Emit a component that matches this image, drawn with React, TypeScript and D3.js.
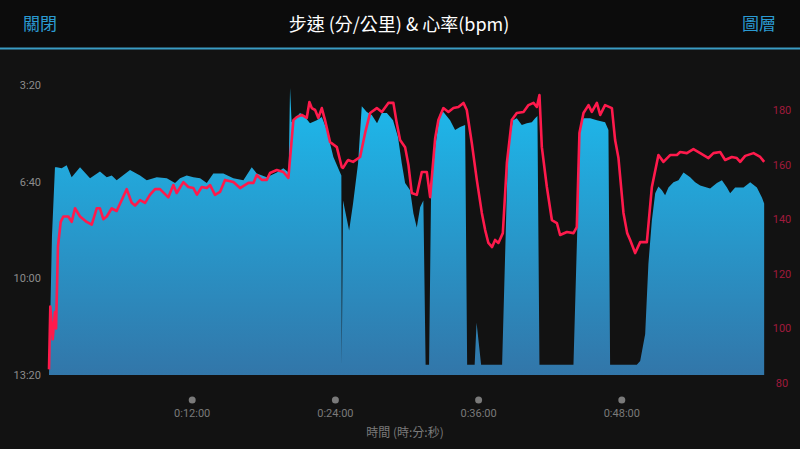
import React from "react";
import * as d3 from "d3";

// time in minutes, pace in seconds per km
const paceTime = [0, 0.25, 0.5, 0.65, 1.06, 1.48, 1.9, 2.6, 3.44, 4.27, 4.84, 5.26, 5.67, 6.79, 7.63, 8.19, 9.03, 9.87, 10.56, 10.98, 11.54, 12.1, 12.66, 13.22, 13.77, 14.61, 15.45, 16.29, 16.99, 17.41, 18.25, 19.09, 19.64, 20.08, 20.2, 20.33, 20.62, 21.04, 21.46, 21.87, 22.44, 22.86, 23.28, 23.83, 24.39, 24.5, 24.53, 24.64, 25.15, 25.48, 25.9, 26.21, 26.63, 27.05, 27.49, 27.89, 28.31, 28.83, 29.25, 29.56, 29.84, 30.26, 30.54, 30.82, 31.1, 31.37, 31.56, 31.85, 32.02, 32.36, 32.77, 33.05, 33.61, 34.03, 34.45, 34.87, 35.04, 35.67, 35.83, 36.21, 37.97, 38.47, 38.89, 39.2, 39.62, 40.04, 40.46, 40.74, 40.93, 41.1, 43.95, 44.51, 44.79, 45.35, 45.91, 46.6, 46.88, 47.02, 49.26, 49.54, 49.96, 50.23, 50.52, 50.8, 51.07, 51.36, 51.63, 51.91, 52.33, 52.75, 53.17, 53.73, 54.15, 54.57, 55.4, 55.97, 56.39, 56.81, 57.08, 57.5, 58.2, 58.76, 59.32, 59.74, 59.93];
const paceSec = [800, 512, 370, 370, 372, 366, 391, 370, 393, 379, 391, 387, 397, 376, 387, 397, 391, 393, 403, 393, 387, 391, 393, 403, 383, 383, 393, 397, 370, 383, 391, 381, 372, 381, 206, 277, 269, 258, 266, 279, 273, 266, 293, 349, 381, 387, 779, 439, 501, 445, 362, 244, 256, 262, 279, 258, 258, 273, 308, 362, 403, 418, 466, 495, 453, 439, 779, 779, 418, 329, 258, 256, 273, 293, 287, 283, 779, 779, 692, 779, 779, 329, 273, 269, 283, 279, 277, 269, 264, 779, 779, 287, 269, 269, 273, 277, 293, 779, 779, 771, 715, 570, 480, 424, 410, 418, 428, 412, 401, 397, 381, 391, 401, 408, 414, 403, 397, 412, 424, 412, 412, 401, 412, 433, 445];

// time in minutes, heart rate in bpm
const hrTime = [0, 0.11, 0.31, 0.5, 0.59, 0.75, 0.98, 1.2, 1.62, 1.9, 2.18, 2.6, 3.16, 3.58, 4.0, 4.27, 4.55, 4.84, 5.26, 5.67, 6.51, 6.93, 7.21, 7.63, 8.05, 8.47, 8.89, 9.3, 10.0, 10.42, 10.7, 11.26, 11.68, 12.1, 12.4, 12.8, 13.22, 13.5, 13.91, 14.33, 14.75, 15.45, 16.01, 16.71, 17.13, 17.41, 17.83, 18.25, 18.52, 19.09, 19.64, 20.06, 20.48, 20.76, 21.18, 21.6, 21.82, 22.02, 22.3, 22.57, 22.86, 23.13, 23.55, 24.12, 24.53, 24.64, 24.95, 25.07, 25.48, 26.07, 26.49, 26.91, 27.47, 27.89, 28.44, 28.86, 29.14, 29.42, 29.84, 30.12, 30.4, 30.82, 31.24, 31.66, 31.94, 32.36, 32.63, 33.05, 33.47, 33.89, 34.31, 34.73, 35.01, 35.43, 35.85, 36.27, 36.55, 36.82, 37.13, 37.38, 37.66, 38.03, 38.37, 38.78, 39.2, 39.76, 40.18, 40.6, 40.88, 41.1, 41.3, 41.72, 42.14, 42.56, 42.83, 43.4, 43.95, 44.23, 44.45, 44.79, 45.21, 45.49, 45.91, 46.19, 46.6, 47.17, 47.44, 47.72, 48.14, 48.45, 48.7, 49.12, 49.54, 50.1, 50.52, 51.07, 51.49, 52.05, 52.62, 52.89, 53.45, 54.0, 54.57, 55.26, 55.68, 56.24, 56.66, 57.22, 57.64, 57.92, 58.34, 59.04, 59.6, 59.93];
const hrBpm = [85, 108, 96, 106, 100, 130, 139, 141, 141, 139, 144, 141, 139, 138, 144, 144, 140, 141, 144, 143, 151, 146, 145, 147, 146, 149, 151, 151, 148, 152.5, 149.6, 153.6, 151.8, 151.4, 149, 151.8, 151.4, 152.5, 148.9, 150, 154.4, 153.6, 151.4, 153.3, 153.3, 156.2, 154.4, 154.4, 156.9, 158, 157.3, 155.1, 176.3, 177.4, 178.2, 177.1, 182.9, 180.7, 180, 177.1, 180.7, 176.3, 168.3, 166.4, 159.1, 158.8, 161, 161.7, 161, 162.8, 171.6, 178.9, 180.7, 179.3, 182.6, 182.6, 175.2, 169, 166.4, 159.9, 149.6, 148.9, 157.3, 157.3, 148.1, 169.7, 176.3, 180.7, 179.3, 180.7, 181.1, 182.6, 180, 167.9, 154.4, 142.3, 136, 131.3, 129.8, 132.4, 131.3, 134.9, 160.6, 176.3, 178.9, 179.3, 181.8, 182.6, 181.1, 185.5, 166.4, 151.8, 139.7, 138.6, 134.2, 135.3, 134.9, 137.1, 171.6, 178.9, 181.8, 179.3, 182.6, 178.2, 181.8, 180.7, 169, 162.4, 142.3, 134.9, 132.4, 127.6, 131.6, 131.6, 151.8, 163.5, 161, 163.5, 163.5, 164.6, 164.2, 165.7, 164.2, 162.4, 164.2, 164.6, 161.7, 162.8, 162.4, 161, 163.2, 164.2, 162.8, 161];

const paceTicks = [200, 400, 600, 800];
const hrTicks = [80, 100, 120, 140, 160, 180];
const timeTicks = [12, 24, 36, 48];

const fmtPace = (s: number) => `${Math.floor(s / 60)}:${String(s % 60).padStart(2, "0")}`;
const fmtTime = (m: number) => `0:${String(m).padStart(2, "0")}:00`;

export default function App() {
  const W = 800, H = 449;
  const x = d3.scaleLinear().domain([0, 60]).range([49, 765]);
  const yP = d3.scaleLinear().domain([200, 800]).range([85, 375]);
  const yH = d3.scaleLinear().domain([80, 180]).range([383, 110]);

  const paceData = paceTime.map((t, i) => ({ t, v: paceSec[i] }));
  const hrData = hrTime.map((t, i) => ({ t, v: hrBpm[i] }));

  const area = d3.area<{ t: number; v: number }>()
    .x(d => x(d.t)).y0(yP(800)).y1(d => yP(d.v));
  const line = d3.line<{ t: number; v: number }>()
    .x(d => x(d.t)).y(d => yH(d.v));

  const sans = "Roboto, 'Noto Sans CJK TC', sans-serif";
  const cjk = "'Noto Sans CJK TC', sans-serif";

  return (
    <svg width={W} height={H} style={{ position: "absolute", left: 0, top: 0 }}>
      <defs>
        <linearGradient id="pg" gradientUnits="userSpaceOnUse" x1={0} y1={85} x2={0} y2={375}>
          <stop offset="0" stopColor="#1cbcef" />
          <stop offset="1" stopColor="#3276a9" />
        </linearGradient>
      </defs>
      <rect x={0} y={0} width={W} height={H} fill="#121212" />
      <rect x={0} y={0} width={W} height={48} fill="#0c0c0c" />
      <line x1={0} x2={W} y1={48.5} y2={48.5} stroke="#3a9cc4" strokeWidth={2} />
      <text x={23} y={30} fill="#2b9bd3" fontSize={17} fontFamily={cjk}>關閉</text>
      <text x={399} y={31} fill="#ffffff" fontSize={18} fontFamily={cjk} textAnchor="middle">步速 (分/公里) &amp; 心率(bpm)</text>
      <text x={776} y={30} fill="#2b9bd3" fontSize={17} fontFamily={cjk} textAnchor="end">圖層</text>

      <path d={area(paceData) || ""} fill="url(#pg)" />
      <path d={line(hrData) || ""} fill="none" stroke="#ff1a4c" strokeWidth={2.6} strokeLinejoin="round" />

      {paceTicks.map(p => (
        <text key={p} x={41} y={yP(p) + 4} fill="#8c8c8c" fontSize={11} fontFamily={sans} textAnchor="end">{fmtPace(p)}</text>
      ))}
      {hrTicks.map(h => (
        <text key={h} x={782} y={yH(h) + 4} fill="#a01a3c" fontSize={11} fontFamily={sans} textAnchor="middle">{h}</text>
      ))}
      {timeTicks.map(t => (
        <g key={t}>
          <circle cx={x(t)} cy={400} r={3.5} fill="#7a7a7a" />
          <text x={x(t)} y={417} fill="#7a7a7a" fontSize={11} fontFamily={sans} textAnchor="middle">{fmtTime(t)}</text>
        </g>
      ))}
      <text x={405} y={437} fill="#7a7a7a" fontSize={12} fontFamily={cjk} textAnchor="middle">時間 (時:分:秒)</text>
    </svg>
  );
}
